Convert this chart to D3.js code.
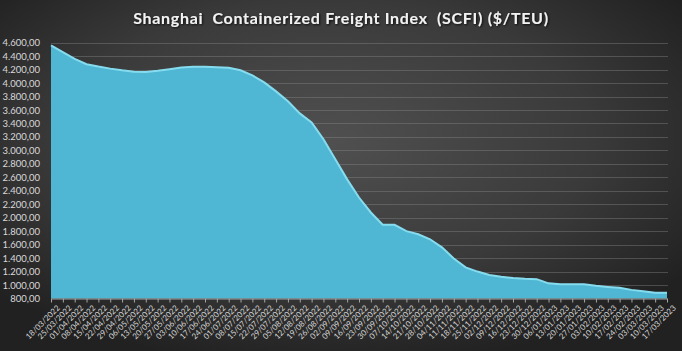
<!DOCTYPE html>
<html>
<head>
<meta charset="utf-8">
<script src="https://cdn.jsdelivr.net/npm/d3@7"></script>
<style>
  html, body { margin: 0; padding: 0; background: #2b2b2b; }
  svg { display: block; }
</style>
</head>
<body>
<svg id="chart" width="682" height="351"></svg>
<script>
// weekly dates shown on the x axis
let dates = [
  "18/03/2022","25/03/2022","01/04/2022","08/04/2022","15/04/2022","22/04/2022","29/04/2022",
  "06/05/2022","13/05/2022","20/05/2022","27/05/2022","03/06/2022","10/06/2022","17/06/2022",
  "24/06/2022","01/07/2022","08/07/2022","15/07/2022","22/07/2022","29/07/2022","05/08/2022",
  "12/08/2022","19/08/2022","26/08/2022","02/09/2022","09/09/2022","16/09/2022","23/09/2022",
  "30/09/2022","07/10/2022","14/10/2022","21/10/2022","28/10/2022","04/11/2022","11/11/2022",
  "18/11/2022","25/11/2022","02/12/2022","09/12/2022","16/12/2022","23/12/2022","30/12/2022",
  "06/01/2023","13/01/2023","20/01/2023","27/01/2023","03/02/2023","10/02/2023","17/02/2023",
  "24/02/2023","03/03/2023","10/03/2023","17/03/2023"
];

// SCFI index values ($/TEU)
let scfi = [
  4560, 4460, 4360, 4280, 4245, 4215, 4190, 4170, 4165, 4182, 4205, 4230, 4242, 4242,
  4235, 4228, 4190, 4115, 4010, 3877, 3729, 3550, 3417, 3165, 2867, 2570, 2300, 2078,
  1895, 1895, 1800, 1755, 1680, 1560, 1395, 1262, 1200, 1150, 1122, 1105, 1094, 1087,
  1025, 1010, 1010, 1010, 988, 972, 958, 928, 906, 884, 884
];

let yTicks = [800, 1000, 1200, 1400, 1600, 1800, 2000, 2200, 2400, 2600, 2800, 3000,
  3200, 3400, 3600, 3800, 4000, 4200, 4400, 4600];

let data = dates.map((d, i) => ({ date: d, value: scfi[i] }));

let width = 682, height = 351;
let svg = d3.select("#chart");

// background: dark with a lighter centre
let defs = svg.append("defs");
let bg = defs.append("radialGradient").attr("id", "bg")
  .attr("cx", "48%").attr("cy", "40%").attr("r", "65%");
bg.append("stop").attr("offset", "0%").attr("stop-color", "#505050");
bg.append("stop").attr("offset", "60%").attr("stop-color", "#3a3a3a");
bg.append("stop").attr("offset", "100%").attr("stop-color", "#212121");
svg.append("rect").attr("width", width).attr("height", height).attr("fill", "url(#bg)");

let shadow = defs.append("filter").attr("id", "shadow");
shadow.append("feDropShadow").attr("dx", 1).attr("dy", 1).attr("stdDeviation", 0.8)
  .attr("flood-color", "#000").attr("flood-opacity", 0.8);

// scales
let x = d3.scalePoint().domain(dates).range([51, 667]);
let y = d3.scaleLinear().domain([800, 4600]).range([298.5, 42.7]);

let locale = d3.formatLocale({ decimal: ",", thousands: ".", grouping: [3], currency: ["", ""] });
let fmt = locale.format(",.2f");

// gridlines
svg.append("g").selectAll("line").data(yTicks.slice(1)).join("line")
  .attr("x1", 51).attr("x2", 668)
  .attr("y1", d => Math.round(y(d)) + 0.5).attr("y2", d => Math.round(y(d)) + 0.5)
  .attr("stroke", "#8a8a8a").attr("stroke-opacity", 0.4).attr("stroke-width", 1);

// y axis labels
let yAxis = svg.append("g").attr("transform", "translate(40,0)")
  .call(d3.axisLeft(y).tickValues(yTicks).tickFormat(fmt).tickSize(0).tickPadding(0));
yAxis.select(".domain").remove();
yAxis.selectAll("text")
  .attr("fill", "#d9d9d9").style("font-family", "Lato, 'Liberation Sans', sans-serif")
  .style("font-size", "9.5px");

// area
let area = d3.area()
  .x(d => x(d.date))
  .y0(y(800))
  .y1(d => y(d.value));
let line = d3.line()
  .x(d => x(d.date))
  .y(d => y(d.value));

svg.append("path").datum(data)
  .attr("d", area)
  .attr("fill", "#4fb7d3");
svg.append("path").datum(data)
  .attr("d", line)
  .attr("fill", "none")
  .attr("stroke", "#86dcef")
  .attr("stroke-width", 2);

// x axis
let xAxis = svg.append("g").attr("transform", "translate(0," + y(800) + ")")
  .call(d3.axisBottom(x).tickSize(4).tickSizeOuter(0).tickPadding(2));
xAxis.select(".domain").attr("stroke", "#a6a6a6");
xAxis.selectAll(".tick line").attr("stroke", "#a6a6a6");
xAxis.selectAll("text")
  .attr("fill", "#d6d6d6")
  .style("font-family", "Lato, 'Liberation Sans', sans-serif")
  .style("font-size", "8px")
  .attr("text-anchor", "end")
  .attr("dy", "0.3em")
  .attr("transform", "translate(3,4) rotate(-45)");

// title
svg.append("text")
  .attr("x", 341).attr("y", 24)
  .attr("text-anchor", "middle")
  .attr("fill", "#f2f2f2")
  .attr("filter", "url(#shadow)")
  .style("font-family", "Lato, 'Open Sans', sans-serif")
  .style("font-weight", "bold")
  .style("font-size", "16px")
  .style("letter-spacing", "0.7px")
  .style("white-space", "pre")
  .text("Shanghai  Containerized Freight Index  (SCFI) ($/TEU)");
</script>
</body>
</html>
